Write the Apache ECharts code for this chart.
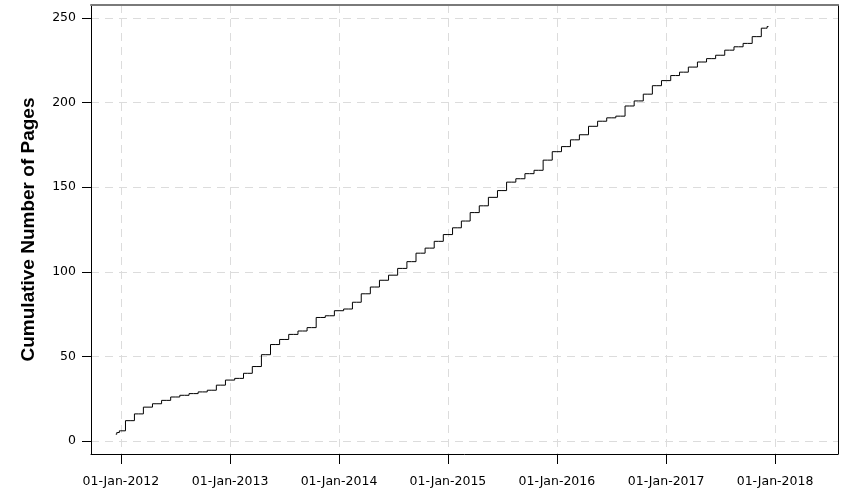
<!DOCTYPE html>
<html>
<head>
<meta charset="utf-8">
<script src="https://cdn.jsdelivr.net/npm/echarts@6/dist/echarts.min.js"></script>
<style>
  html, body { margin: 0; padding: 0; background: #fff; }
  #chart { width: 850px; height: 500px; }
</style>
</head>
<body>
<div id="chart"></div>
<script>
// dates of each reading and the cumulative page count at that date
const dates = [
  '2011-12-15', '2011-12-22',
  '2012-01-01', '2012-02-01', '2012-03-01', '2012-04-01', '2012-05-01', '2012-06-01',
  '2012-07-01', '2012-08-01', '2012-09-01', '2012-10-01', '2012-11-01', '2012-12-01',
  '2013-01-01', '2013-02-01', '2013-03-01', '2013-04-01', '2013-05-01', '2013-06-01',
  '2013-07-01', '2013-08-01', '2013-09-01', '2013-10-01', '2013-11-01', '2013-12-01',
  '2014-01-01', '2014-02-01', '2014-03-01', '2014-04-01', '2014-05-01', '2014-06-01',
  '2014-07-01', '2014-08-01', '2014-09-01', '2014-10-01', '2014-11-01', '2014-12-01',
  '2015-01-01', '2015-02-01', '2015-03-01', '2015-04-01', '2015-05-01', '2015-06-01',
  '2015-07-01', '2015-08-01', '2015-09-01', '2015-10-01', '2015-11-01', '2015-12-01',
  '2016-01-01', '2016-02-01', '2016-03-01', '2016-04-01', '2016-05-01', '2016-06-01',
  '2016-07-01', '2016-08-01', '2016-09-01', '2016-10-01', '2016-11-01', '2016-12-01',
  '2017-01-01', '2017-02-01', '2017-03-01', '2017-04-01', '2017-05-01', '2017-06-01',
  '2017-07-01', '2017-08-01', '2017-09-01', '2017-10-01', '2017-11-01', '2017-12-01',
  '2017-12-10'
];
const pages = [
  4, 5,
  6, 12, 16, 20, 22, 24,
  26, 27, 28, 29, 30, 33,
  36, 37, 40, 44, 51, 57,
  60, 63, 65, 67, 73, 74,
  77, 78, 82, 87, 91, 95,
  98, 102, 106, 111, 114, 118,
  122, 126, 130, 135, 139, 144,
  148, 153, 155, 158, 160, 166,
  171, 174, 178, 181, 186, 189,
  191, 192, 198, 201, 205, 210,
  213, 216, 218, 221, 224, 226,
  228, 231, 233, 235, 239, 244,
  245
];
const tickYears = [2012, 2013, 2014, 2015, 2016, 2017, 2018];
const yTicks = [0, 50, 100, 150, 200, 250];

const monthNames = ['Jan', 'Feb', 'Mar', 'Apr', 'May', 'Jun', 'Jul', 'Aug', 'Sep', 'Oct', 'Nov', 'Dec'];
const tickTimes = tickYears.map(y => Date.UTC(y, 0, 1));

const fmtDate = (v) => {
  const d = new Date(v);
  const dd = String(d.getUTCDate()).padStart(2, '0');
  return dd + '-' + monthNames[d.getUTCMonth()] + '-' + d.getUTCFullYear();
};

const chart = echarts.init(document.getElementById('chart'));

const gridLine = {
  show: true,
  lineStyle: { color: '#dcdcdc', type: [8, 6], width: 1 }
};

const option = {
  animation: false,
  grid: { left: 91, right: 12, top: 5, bottom: 46 },
  xAxis: [{
    type: 'value',
    scale: true,
    min: Date.UTC(2011, 8, 23),
    max: Date.UTC(2018, 6, 31),
    axisLine: { onZero: false, lineStyle: { color: '#000', width: 1 } },
    axisTick: { show: true, length: 10, lineStyle: { color: '#000' }, customValues: tickTimes },
    axisLabel: {
      customValues: tickTimes,
      margin: 21,
      color: '#000',
      fontFamily: 'DejaVu Sans',
      fontSize: 12.5,
      formatter: fmtDate
    },
    splitLine: gridLine
  }, {
    type: 'value',
    position: 'top',
    min: 0,
    max: 1,
    axisLine: { show: true, onZero: false, lineStyle: { color: '#7a7a7a', width: 2 } },
    axisTick: { show: false },
    axisLabel: { show: false },
    splitLine: { show: false }
  }],
  yAxis: [{
    type: 'value',
    min: -7.7,
    max: 257.7,
    name: 'Cumulative Number of Pages',
    nameLocation: 'middle',
    nameGap: 53,
    nameTextStyle: {
      fontFamily: 'Liberation Sans',
      fontWeight: 'bold',
      fontSize: 19,
      color: '#000'
    },
    axisLine: { show: true, onZero: false, lineStyle: { color: '#000', width: 1 } },
    axisTick: { show: true, length: 9, lineStyle: { color: '#000' }, customValues: yTicks },
    axisLabel: {
      customValues: yTicks,
      margin: 15,
      color: '#000',
      fontFamily: 'DejaVu Sans',
      fontSize: 12.5
    },
    splitLine: gridLine
  }, {
    type: 'value',
    position: 'right',
    min: 0,
    max: 1,
    axisLine: { show: true, onZero: false, lineStyle: { color: '#000', width: 1 } },
    axisTick: { show: false },
    axisLabel: { show: false },
    splitLine: { show: false }
  }],
  series: [{
    type: 'line',
    step: 'middle',
    showSymbol: false,
    symbol: 'none',
    lineStyle: { color: '#000', width: 1 },
    data: dates.map((d, i) => [Date.parse(d), pages[i]])
  }]
};

chart.setOption(option);

// the line view skips segments under 2px, which flattens the one-page steps.
// zrender ignores a threshold of 0, so use a tiny positive one
const keepSmallSteps = () => {
  chart.getZr().storage.getDisplayList(true).forEach(el => {
    if (el.shape && el.shape.points && el.segmentIgnoreThreshold !== 0.01) {
      el.segmentIgnoreThreshold = 0.01;
      el.dirtyShape();
    }
  });
};
keepSmallSteps();
chart.on('rendered', keepSmallSteps);
</script>
</body>
</html>
